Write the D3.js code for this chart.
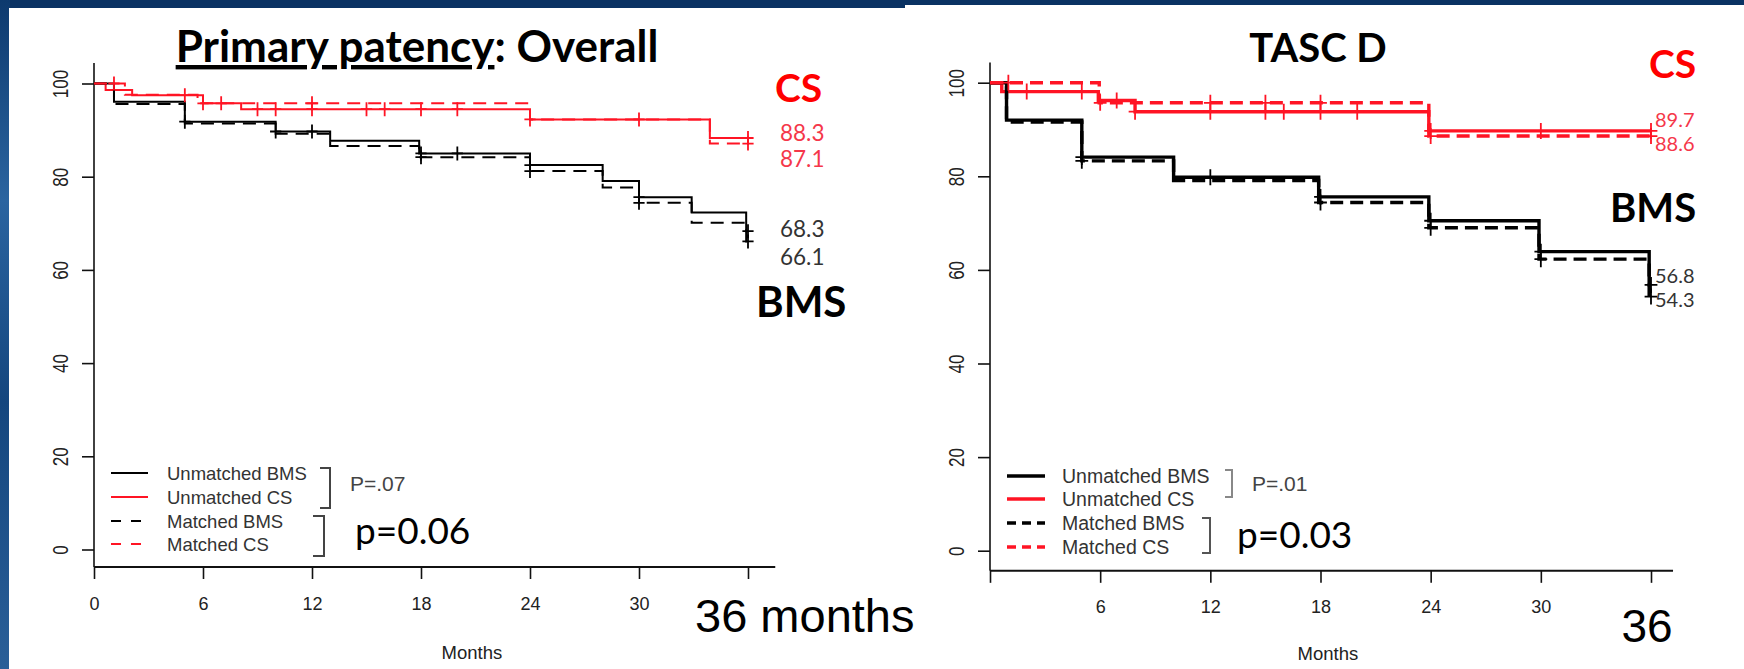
<!DOCTYPE html>
<html>
<head>
<meta charset="utf-8">
<script src="https://cdn.jsdelivr.net/npm/d3@7"></script>
<style>
body { margin: 0; background: #0c3364; overflow: hidden; }
text { font-family: "Liberation Sans", Arial, sans-serif; }
.cal { font-family: Lato, "Open Sans", sans-serif; }
</style>
</head>
<body>
<script>
// axis ticks
var months = [0, 6, 12, 18, 24, 30, 36];
var yTicks = [0, 20, 40, 60, 80, 100];
var legendNames = ["Unmatched BMS", "Unmatched CS", "Matched BMS", "Matched CS"];

// Overall: [month, % patent] at each step of the KM curve
var overallUnmatchedBMS = [[0, 100], [1.1, 96.1], [5.0, 91.8], [10.0, 89.7], [13.0, 87.7], [17.9, 85.0], [24.0, 82.5], [28.0, 79.1], [30.0, 75.6], [32.9, 72.3], [35.9, 68.3]];
var overallUnmatchedCS  = [[0, 100], [0.64, 98.6], [2.1, 97.5], [6.0, 95.75], [8.1, 94.5], [24.0, 92.3], [33.9, 88.3]];
var overallMatchedBMS   = [[0, 100], [1.1, 95.6], [5.0, 91.4], [10.0, 89.2], [13.0, 86.6], [17.9, 84.2], [24.0, 81.2], [28.0, 77.7], [30.0, 74.4], [32.9, 70.1], [35.9, 66.1]];
var overallMatchedCS    = [[0, 100], [1.7, 97.6], [5.7, 95.75], [24.0, 92.3], [33.9, 87.1]];
// censor times
var overallCensUBMS = [5.0, 10.0, 12.0, 18.0, 20.0, 24.0, 30.0, 36];
var overallCensUCS  = [5.0, 9.0, 10.0, 12.0, 15.0, 16.0, 18.0, 20.0, 30.0, 36];
var overallCensMBMS = [18.0, 24.0, 30.0, 36];
var overallCensMCS  = [1.1, 6.0, 7.0, 12.0, 24.0, 36];

// TASC D
var tascUnmatchedBMS = [[0, 100], [0.9, 92.0], [5.0, 84.1], [10.0, 79.8], [17.9, 75.6], [23.9, 70.5], [29.9, 63.9], [35.9, 56.8]];
var tascUnmatchedCS  = [[0, 100], [0.64, 98.1], [5.9, 96.2], [7.9, 93.8], [23.9, 89.7]];
var tascMatchedBMS   = [[0, 100], [0.9, 91.6], [5.0, 83.3], [10.0, 79.1], [17.9, 74.4], [23.9, 69.0], [29.9, 62.3], [35.9, 54.3]];
var tascMatchedCS    = [[0, 100], [5.95, 95.7], [23.9, 88.6]];
var tascCensUBMS = [5.0, 12.0, 18.0, 24.0, 30.0, 36];
var tascCensUCS  = [2.0, 5.0, 6.9, 7.9, 12.0, 15.0, 16.0, 18.0, 20.0, 24.0, 30.0, 36];
var tascCensMBMS = [5.0, 18.0, 24.0, 30.0, 36];
var tascCensMCS  = [1.0, 6.0, 12.0, 15.0, 18.0, 24.0, 36];

var RED = "#ff1424";

var svg = d3.select("body").append("svg")
    .attr("width", 1744).attr("height", 669);

var defs = svg.append("defs");
var grad = defs.append("linearGradient").attr("id", "edge").attr("x1", 0).attr("y1", 0).attr("x2", 0).attr("y2", 1);
grad.append("stop").attr("offset", "0").attr("stop-color", "#0d3a6e");
grad.append("stop").attr("offset", "0.3").attr("stop-color", "#2b64a0");
grad.append("stop").attr("offset", "0.6").attr("stop-color", "#14467e");
grad.append("stop").attr("offset", "1").attr("stop-color", "#2a5f98");

svg.append("rect").attr("width", 1744).attr("height", 669).attr("fill", "#0a3263");
svg.append("rect").attr("x", 0).attr("y", 0).attr("width", 10).attr("height", 669).attr("fill", "url(#edge)");
svg.append("rect").attr("x", 9).attr("y", 8).attr("width", 897).attr("height", 661).attr("fill", "#fff");
svg.append("rect").attr("x", 905).attr("y", 5).attr("width", 839).attr("height", 664).attr("fill", "#fff");

function stepAt(pts, t) {
  var v = pts[0][1];
  pts.forEach(function (p) { if (p[0] <= t) v = p[1]; });
  return v;
}

function drawPanel(p) {
  var x = d3.scaleLinear().domain([0, 36]).range(p.xr);
  var y = d3.scaleLinear().domain([0, 100]).range(p.yr);
  var g = svg.append("g");
  var axisY = y(p.yMin);

  // axes (L shaped frame)
  g.append("line").attr("x1", x(0)).attr("x2", x(0)).attr("y1", y(p.yTop)).attr("y2", axisY)
    .attr("stroke", "#111").attr("stroke-width", 1.6);
  g.append("line").attr("x1", x(0)).attr("x2", x(p.xEnd)).attr("y1", axisY).attr("y2", axisY)
    .attr("stroke", "#111").attr("stroke-width", 2);

  var xa = g.append("g").attr("transform", "translate(0," + axisY + ")")
    .call(d3.axisBottom(x).tickValues(months).tickSize(12).tickFormat(p.xFmt));
  xa.select(".domain").remove();
  xa.selectAll("line").attr("stroke", "#111").attr("stroke-width", 1.6);
  xa.selectAll("text").attr("y", p.xLabY).attr("dy", 0).attr("dominant-baseline", "central")
    .attr("font-size", 18).attr("fill", "#222").attr("font-family", "Liberation Sans, Arial, sans-serif");

  var ya = g.append("g").attr("transform", "translate(" + x(0) + ",0)")
    .call(d3.axisLeft(y).tickValues(yTicks).tickSize(12));
  ya.select(".domain").remove();
  ya.selectAll("line").attr("stroke", "#111").attr("stroke-width", 1.6);
  ya.selectAll("text").attr("x", 0).attr("dy", 0).attr("transform", "translate(-33,0) rotate(-90) scale(1,1.25)")
    .attr("text-anchor", "middle").attr("dominant-baseline", "central")
    .attr("font-size", 17).attr("fill", "#222").attr("font-family", "Liberation Sans, Arial, sans-serif");

  var line = d3.line().x(function (d) { return x(d[0]); }).y(function (d) { return y(d[1]); })
    .curve(d3.curveStepAfter);

  p.series.forEach(function (s) {
    var pts = s.pts.concat([[36, s.pts[s.pts.length - 1][1]]]);
    g.append("path").attr("d", line(pts)).attr("fill", "none")
      .attr("stroke", s.color).attr("stroke-width", p.lw)
      .attr("stroke-dasharray", s.dash ? p.dash : null);
    var h = p.cens / 2;
    s.cens.forEach(function (t) {
      var cx = x(t), cy = y(stepAt(s.pts, t));
      g.append("path").attr("d", "M" + (cx - h * 0.8) + "," + cy + "H" + (cx + h * 0.8) + "M" + cx + "," + (cy - h) + "V" + (cy + h))
        .attr("stroke", s.color).attr("stroke-width", 1.8).attr("fill", "none");
    });
  });

  // end values
  p.ends.forEach(function (e) {
    g.append("text").attr("class", "cal").attr("x", x(36) + p.endDx).attr("y", y(e.v) + e.dy)
      .attr("dominant-baseline", "central").attr("font-size", p.endSize)
      .attr("fill", e.color).text(e.v.toFixed(1));
  });

  // legend
  var lg = g.append("g");
  legendNames.forEach(function (name, i) {
    var s = p.series[i];
    var ly = p.legY[i];
    lg.append("line").attr("x1", p.legX[0]).attr("x2", p.legX[1]).attr("y1", ly).attr("y2", ly)
      .attr("stroke", s.color).attr("stroke-width", p.legLw)
      .attr("stroke-dasharray", s.dash ? p.legDash : null);
    lg.append("text").attr("x", p.legX[2]).attr("y", ly).attr("dominant-baseline", "central")
      .attr("font-size", p.legSize).attr("fill", "#333").text(name);
  });
  p.brackets.forEach(function (b) {
    lg.append("path").attr("d", "M" + b[0] + "," + b[1] + "H" + b[2] + "V" + b[3] + "H" + b[0])
      .attr("fill", "none").attr("stroke", b[4]).attr("stroke-width", 2);
  });
  return { x: x, y: y, g: g };
}

var left = drawPanel({
  xr: [94, 748], yr: [549.5, 83.5], yMin: -3.75, yTop: 104.4, xEnd: 37.5, xLabY: 37,
  xFmt: function (d) { return d === 36 ? "" : d; },
  lw: 2, dash: "13,8", cens: 14,
  series: [
    { pts: overallUnmatchedBMS, cens: overallCensUBMS, color: "#000", dash: false },
    { pts: overallUnmatchedCS, cens: overallCensUCS, color: RED, dash: false },
    { pts: overallMatchedBMS, cens: overallCensMBMS, color: "#000", dash: true },
    { pts: overallMatchedCS, cens: overallCensMCS, color: RED, dash: true }
  ],
  ends: [
    { v: 88.3, dy: -6, color: "#f5374a" }, { v: 87.1, dy: 14.5, color: "#f5374a" },
    { v: 68.3, dy: -2.5, color: "#333" }, { v: 66.1, dy: 15, color: "#333" }
  ],
  endDx: 32, endSize: 22.5,
  legX: [111, 148, 167], legY: [473, 497, 521, 544], legLw: 2, legDash: "10,10", legSize: 18.5,
  brackets: [[320, 468, 330, 508, "#444"], [313, 516, 324, 556, "#444"]]
});

var right = drawPanel({
  xr: [990, 1651], yr: [550.7, 82.7], yMin: -4.3, yTop: 104.3, xEnd: 37.2, xLabY: 36,
  xFmt: function (d) { return (d === 0 || d === 36) ? "" : d; },
  lw: 3.4, dash: "13,7", cens: 16,
  series: [
    { pts: tascUnmatchedBMS, cens: tascCensUBMS, color: "#000", dash: false },
    { pts: tascUnmatchedCS, cens: tascCensUCS, color: RED, dash: false },
    { pts: tascMatchedBMS, cens: tascCensMBMS, color: "#000", dash: true },
    { pts: tascMatchedCS, cens: tascCensMCS, color: RED, dash: true }
  ],
  ends: [
    { v: 89.7, dy: -11.5, color: "#f5374a" }, { v: 88.6, dy: 6.5, color: "#f5374a" },
    { v: 56.8, dy: -9.5, color: "#333" }, { v: 54.3, dy: 2, color: "#333" }
  ],
  endDx: 4, endSize: 20,
  legX: [1007, 1045, 1062], legY: [476, 499, 523, 547], legLw: 3.4, legDash: "9,6", legSize: 19.5,
  brackets: [[1225, 470, 1232, 497, "#888"], [1202, 518, 1210, 553, "#555"]]
});

// titles and annotations
var title = svg.append("text").attr("class", "cal").attr("x", 417).attr("y", 62)
  .attr("text-anchor", "middle").attr("font-size", 44).attr("font-weight", 700).attr("fill", "#000");
title.append("tspan").style("text-decoration", "underline").text("Primary patency");
title.append("tspan").text(": Overall");

svg.append("text").attr("class", "cal").attr("x", 1318).attr("y", 62).attr("text-anchor", "middle")
  .attr("font-size", 40).attr("font-weight", 700).text("TASC D");

function big(txt, xx, yy, size, color, bold, cls, anchor) {
  return svg.append("text").attr("class", cls || null).attr("x", xx).attr("y", yy)
    .attr("text-anchor", anchor || "start").attr("font-size", size)
    .attr("font-weight", bold ? 700 : 400).attr("fill", color).text(txt);
}
big("CS", 775, 102, 39, "#ff0000", true, "cal");
big("BMS", 756, 317, 42, "#000", true, "cal");
big("CS", 1649, 78, 39, "#ff0000", true, "cal");
big("BMS", 1610, 222, 40, "#000", true, "cal");

big("P=.07", 350, 491, 21, "#444", false);
big("p=0.06", 355, 544, 37, "#000", false, "cal");
big("P=.01", 1252, 491, 21, "#444", false);
big("p=0.03", 1237, 548, 37, "#000", false, "cal");

big("Months", left.x(20.8), 659, 18.5, "#222", false, null, "middle");
big("Months", right.x(18.4), 660, 18.5, "#222", false, null, "middle");

big("36 months", 695, 632, 47, "#000", false);
big("36", right.x(36) - 4, 642, 46, "#000", false, null, "middle");
</script>
</body>
</html>
